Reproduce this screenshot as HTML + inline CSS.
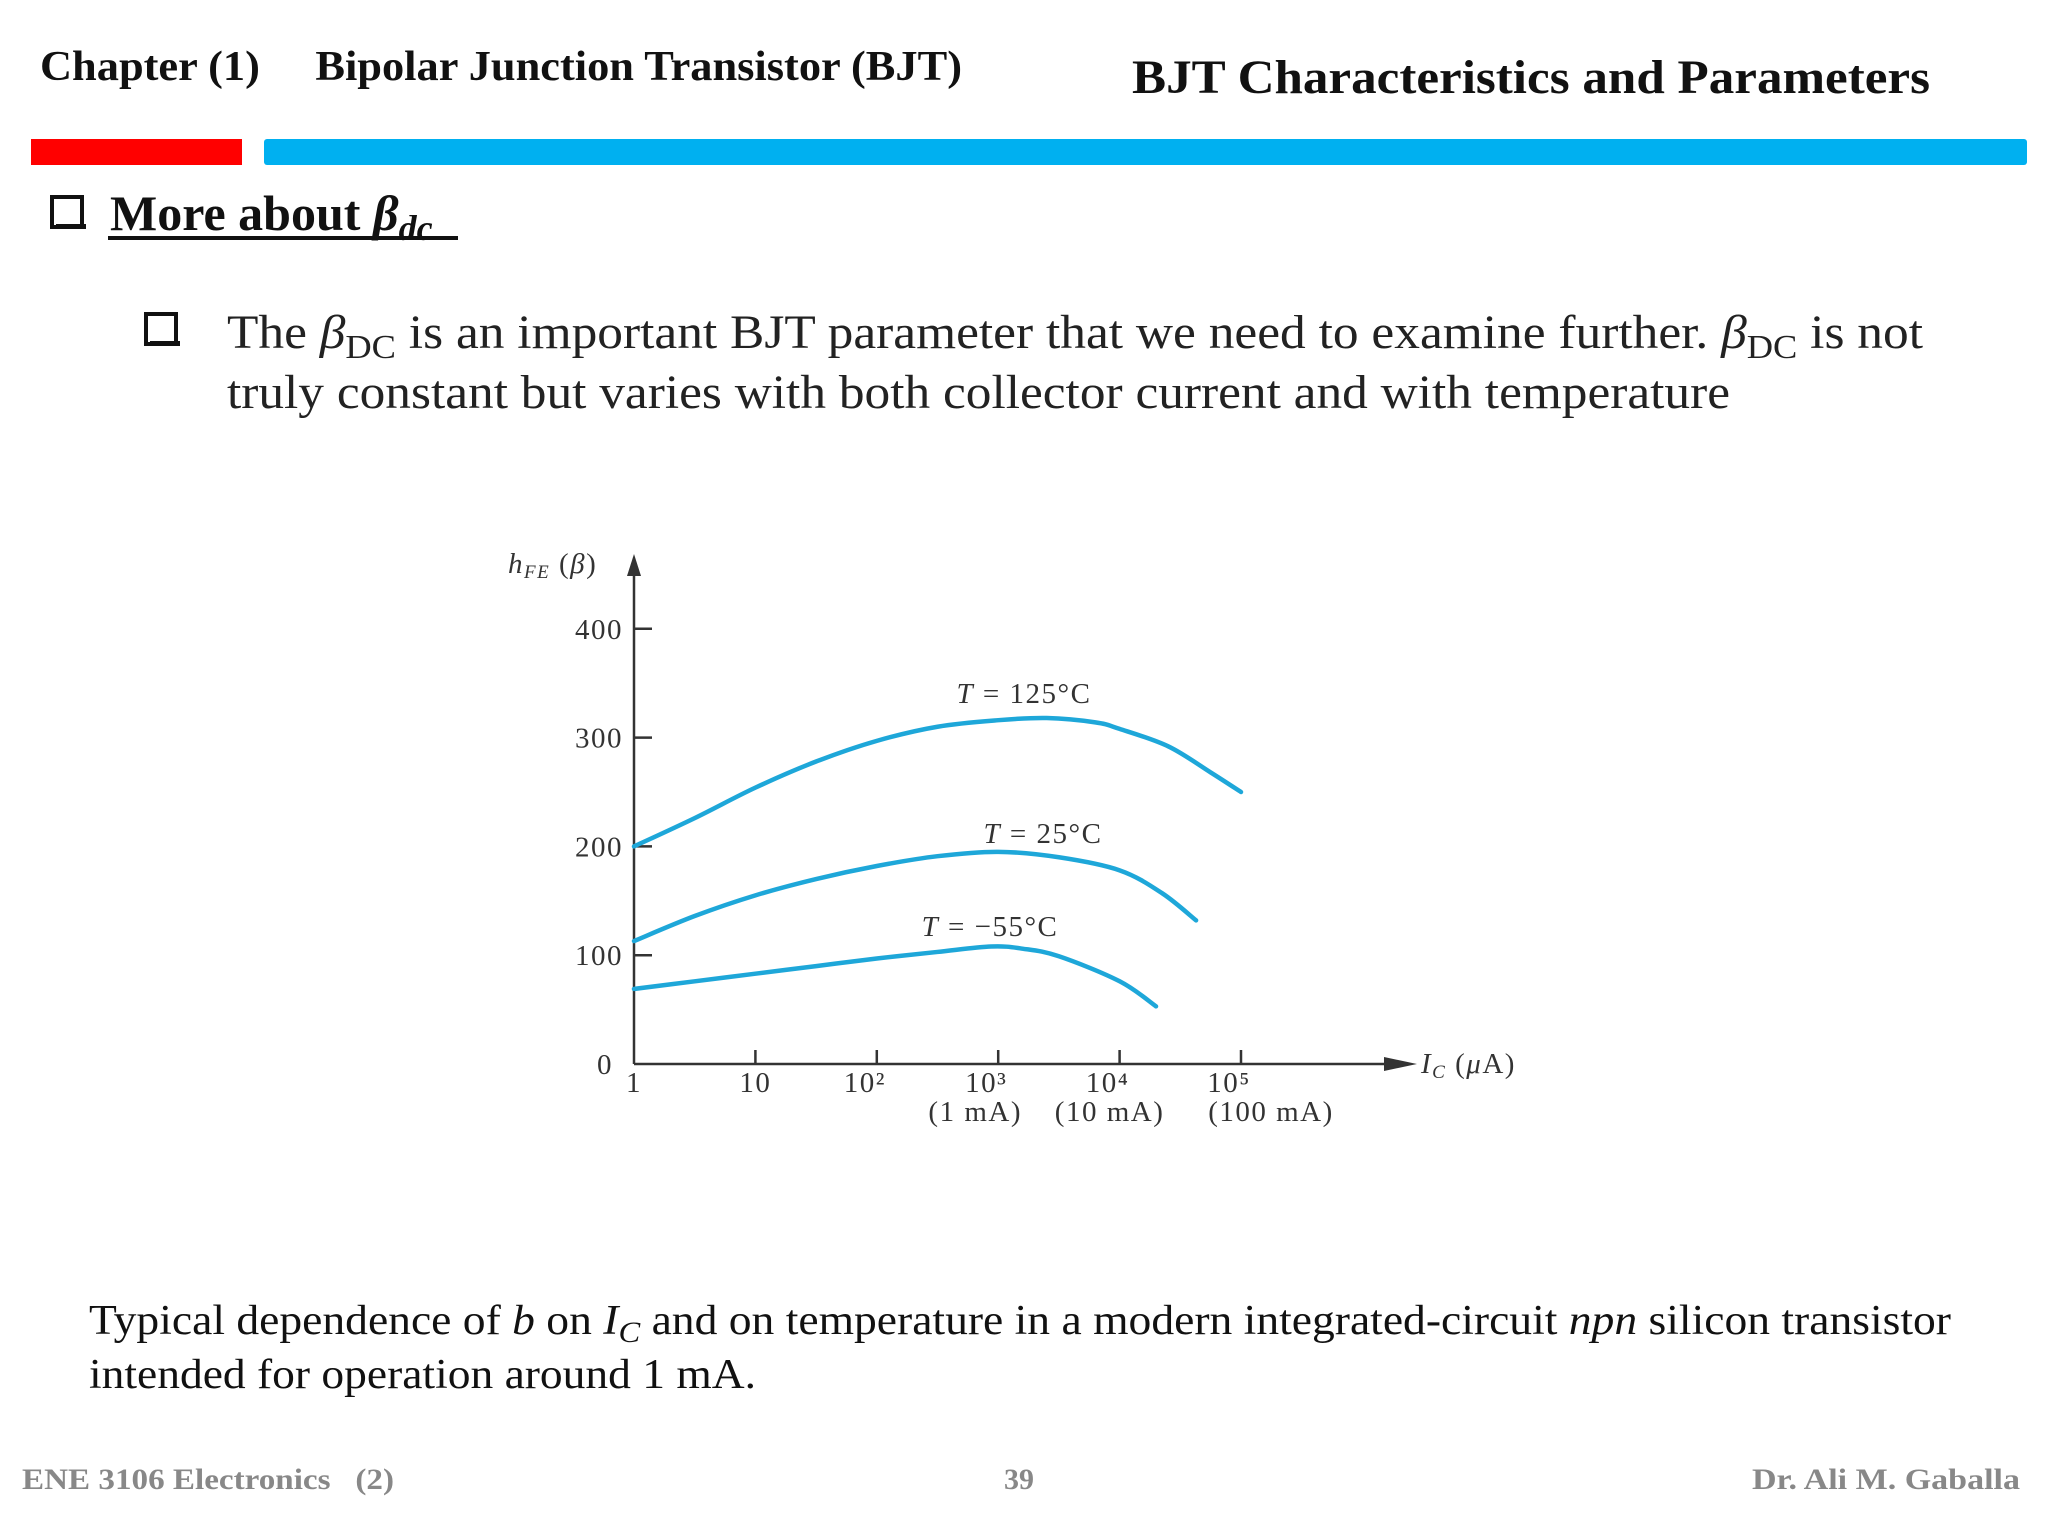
<!DOCTYPE html>
<html><head><meta charset="utf-8"><style>
html,body{margin:0;padding:0;background:#fff;}
svg{display:block;}
text{font-family:"Liberation Serif",serif;}
#chart text{letter-spacing:1.5px;}
</style></head><body>
<svg id="s" width="2048" height="1536" viewBox="0 0 2048 1536" xmlns="http://www.w3.org/2000/svg">
<text x="40" y="80" font-size="42" font-weight="bold" fill="#111" textLength="922" lengthAdjust="spacingAndGlyphs" xml:space="preserve">Chapter (1)     Bipolar Junction Transistor (BJT)</text>
<text x="1132" y="93" font-size="48" font-weight="bold" fill="#111" textLength="798" lengthAdjust="spacingAndGlyphs">BJT Characteristics and Parameters</text>
<rect x="31" y="139" width="211" height="26" fill="#ff0000"/>
<rect x="264" y="139" width="1763" height="26" rx="3" fill="#00b0f0"/>
<rect x="52" y="197" width="30" height="30" fill="#fff" stroke="#111" stroke-width="4"/>
<rect x="56" y="224" width="30" height="5" fill="#111"/>
<text x="110" y="230" font-size="50" font-weight="bold" fill="#111">More about <tspan font-style="italic">β</tspan><tspan font-style="italic" font-size="36" dy="10">dc</tspan></text>
<rect x="108" y="236" width="350" height="4" fill="#111"/>
<rect x="146" y="314" width="30" height="30" fill="#fff" stroke="#111" stroke-width="4"/>
<rect x="150" y="341" width="30" height="5" fill="#111"/>
<text x="227" y="348" font-size="48" fill="#222" textLength="1696" lengthAdjust="spacingAndGlyphs">The <tspan font-style="italic">β</tspan><tspan font-size="34" dy="10">DC</tspan><tspan dy="-10"> is an important BJT parameter that we need to examine further. </tspan><tspan font-style="italic">β</tspan><tspan font-size="34" dy="10">DC</tspan><tspan dy="-10"> is not</tspan></text>
<text x="227" y="408" font-size="48" fill="#222" textLength="1503" lengthAdjust="spacingAndGlyphs">truly constant but varies with both collector current and with temperature</text>
<g id="chart"></g>
<text x="89" y="1334" font-size="42" fill="#111" textLength="1862" lengthAdjust="spacingAndGlyphs">Typical dependence of <tspan font-style="italic">b</tspan> on <tspan font-style="italic">I</tspan><tspan font-style="italic" font-size="30" dy="8">C</tspan><tspan dy="-8"> and on temperature in a modern integrated-circuit </tspan><tspan font-style="italic">npn</tspan> silicon transistor</text>
<text x="89" y="1388" font-size="42" fill="#111" textLength="667" lengthAdjust="spacingAndGlyphs">intended for operation around 1 mA.</text>
<text x="22" y="1489" font-size="30" font-weight="bold" fill="#888" textLength="372" lengthAdjust="spacingAndGlyphs" xml:space="preserve">ENE 3106 Electronics   (2)</text>
<text x="1019" y="1489" font-size="30" font-weight="bold" fill="#888" text-anchor="middle">39</text>
<text x="1752" y="1489" font-size="30" font-weight="bold" fill="#888" textLength="268" lengthAdjust="spacingAndGlyphs">Dr. Ali M. Gaballa</text>
</svg>
<script>
const yTicks = [0, 100, 200, 300, 400];
const xTickLabels = ["1", "10", "10²", "10³", "10⁴", "10⁵"];
const xSubLabels = ["(1 mA)", "(10 mA)", "(100 mA)"];
const logX125 = [0, 0.5, 1, 1.5, 2, 2.5, 3, 3.4, 3.8, 4, 4.4, 4.75, 5.0];
const val125 = [200, 226, 254, 278, 297, 310, 316, 318, 314, 308, 292, 268, 250];
const logX25 = [0, 0.5, 1, 1.5, 2, 2.5, 3, 3.5, 4, 4.35, 4.63];
const val25 = [113, 136, 155, 170, 182, 191, 195, 190, 178, 157, 132];
const logXm55 = [0, 0.5, 1, 1.5, 2, 2.5, 2.94, 3.2, 3.5, 4, 4.3];
const valm55 = [69, 76, 83, 90, 97, 103, 108, 106, 99, 76, 53];
const seriesLabels = ["T = 125°C", "T = 25°C", "T = −55°C"];

const NS = "http://www.w3.org/2000/svg";
const g = document.getElementById("chart");
const X0 = 634, DEC = 121.4, Y0 = 1064, PER = 1.088;
const xs = v => X0 + v * DEC;
const ys = v => Y0 - v * PER;
const C = "#333";
const FS = 29;
function mk(tag, attrs, parent) {
  const e = document.createElementNS(NS, tag);
  for (const k in attrs) e.setAttribute(k, attrs[k]);
  (parent || g).appendChild(e);
  return e;
}
let e = mk("line", {x1: X0, y1: Y0, x2: 1400, y2: Y0, stroke: C, "stroke-width": 2.5});


e = mk("line", {x1: X0, y1: Y0, x2: X0, y2: 570, stroke: C, "stroke-width": 2.5});


e = mk("polygon", {points: "1384,1057 1417,1064 1384,1071", fill: C});


e = mk("polygon", {points: `${X0-7},576 ${X0},554 ${X0+7},576`, fill: C});


yTicks.forEach(v => {
  if (v > 0) {
    const t = mk("line", {x1: X0, y1: ys(v), x2: X0 + 18, y2: ys(v), stroke: C, "stroke-width": 2.5});
    
    
  }
  const l = mk("text", {x: v === 0 ? 613 : 623, y: ys(v) + 10, "font-size": FS, fill: C, "text-anchor": "end"});
  l.textContent = String(v);
  
  
});
xTickLabels.forEach((s, i) => {
  if (i > 0) {
    const t = mk("line", {x1: xs(i), y1: Y0, x2: xs(i), y2: Y0 - 14, stroke: C, "stroke-width": 2.5});
    
    
  }
  const l = mk("text", {x: xs(i) - (i >= 2 ? 12 : 0), y: 1092, "font-size": FS, fill: C, "text-anchor": "middle"});
  l.textContent = s;
  
  
});
xSubLabels.forEach((s, i) => {
  const l = mk("text", {x: xs(i + 3) + [-23, -10, 30][i], y: 1121, "font-size": FS, fill: C, "text-anchor": "middle"});
  l.textContent = s;
  
  
});
e = mk("text", {x: 508, y: 573, "font-size": FS, fill: C});
e.innerHTML = '<tspan font-style="italic">h</tspan><tspan font-style="italic" font-size="19" dy="5">FE</tspan><tspan dy="-5"> (</tspan><tspan font-style="italic">β</tspan>)';


e = mk("text", {x: 1421, y: 1073, "font-size": FS, fill: C});
e.innerHTML = '<tspan font-style="italic">I</tspan><tspan font-style="italic" font-size="19" dy="5">C</tspan><tspan dy="-5"> (</tspan><tspan font-style="italic">μ</tspan>A)';


function path(lx, vals) {
  const p = lx.map((v, i) => [xs(v), ys(vals[i])]);
  let d = `M${p[0][0]},${p[0][1]}`;
  for (let i = 0; i < p.length - 1; i++) {
    const p0 = p[i - 1] || p[i], p1 = p[i], p2 = p[i + 1], p3 = p[i + 2] || p2;
    const c1x = p1[0] + (p2[0] - p0[0]) / 6, c1y = p1[1] + (p2[1] - p0[1]) / 6;
    const c2x = p2[0] - (p3[0] - p1[0]) / 6, c2y = p2[1] - (p3[1] - p1[1]) / 6;
    d += ` C${c1x},${c1y} ${c2x},${c2y} ${p2[0]},${p2[1]}`;
  }
  return d;
}
const series = [[logX125, val125, "curve-125c"], [logX25, val25, "curve-25c"], [logXm55, valm55, "curve-minus55c"]];
series.forEach(s => {
  const c = mk("path", {d: path(s[0], s[1]), fill: "none", stroke: "#1ea7d9", "stroke-width": 4.5, "stroke-linecap": "round"});
  
  
});
const labelPos = [[1024, 703], [1043, 843], [990, 936]];
seriesLabels.forEach((s, i) => {
  const l = mk("text", {x: labelPos[i][0], y: labelPos[i][1], "font-size": FS, fill: C, "text-anchor": "middle"});
  l.innerHTML = '<tspan font-style="italic">T</tspan>' + s.slice(1).replace(/ /g, '  ');
  l.setAttribute('xml:space', 'preserve');
  
  
});
</script>
</body></html>
